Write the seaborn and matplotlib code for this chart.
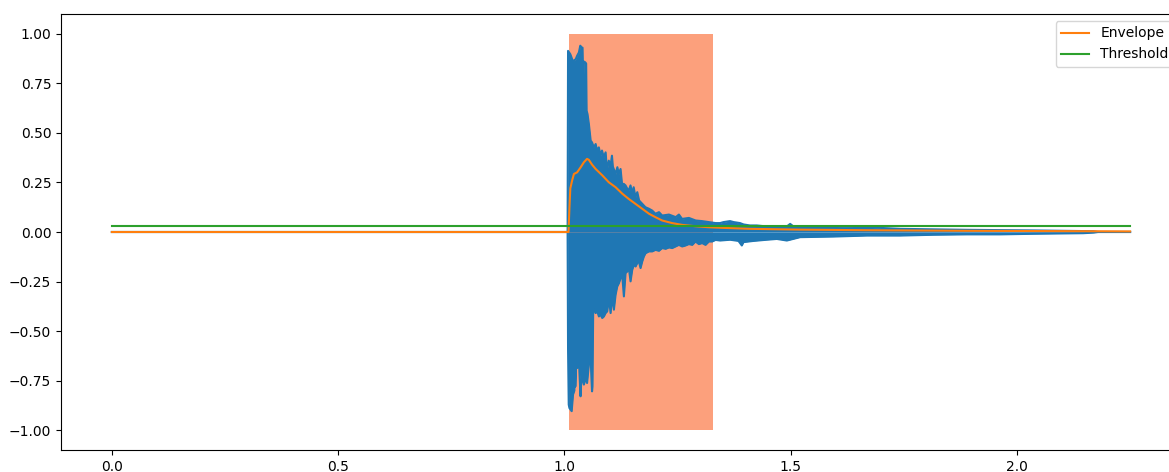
import matplotlib
matplotlib.use("Agg")
import matplotlib.pyplot as plt
import seaborn as sns

# ---- data ----
# upper extent of the waveform (time in s, amplitude)
hi_t = [0.000, 1.007, 1.008, 1.013, 1.017, 1.0185, 1.020, 1.025, 1.028, 1.032,
        1.035, 1.038, 1.040, 1.0415, 1.043, 1.046, 1.048, 1.049, 1.051, 1.054,
        1.058, 1.061, 1.065, 1.069, 1.072, 1.076, 1.080, 1.083, 1.087, 1.091,
        1.094, 1.098, 1.102, 1.105, 1.107, 1.113, 1.117, 1.120, 1.124, 1.128,
        1.131, 1.135, 1.139, 1.142, 1.146, 1.150, 1.153, 1.157, 1.161, 1.165,
        1.172, 1.179, 1.187, 1.194, 1.201, 1.209, 1.216, 1.231, 1.246, 1.253,
        1.260, 1.275, 1.290, 1.304, 1.319, 1.334, 1.344, 1.3515, 1.366, 1.374,
        1.388, 1.396, 1.410, 1.425, 1.447, 1.4915, 1.4988, 1.506, 1.595, 1.668,
        1.742, 1.889, 2.036, 2.169, 2.180, 2.250]
hi_v = [0.000, 0.000, 0.914, 0.897, 0.872, 0.690, 0.864, 0.872, 0.889, 0.906,
        0.940, 0.931, 0.930, 0.746, 0.860, 0.856, 0.850, 0.612, 0.595, 0.545,
        0.461, 0.452, 0.427, 0.444, 0.411, 0.427, 0.385, 0.411, 0.377, 0.402,
        0.310, 0.360, 0.335, 0.385, 0.330, 0.293, 0.327, 0.293, 0.318, 0.226,
        0.243, 0.235, 0.218, 0.209, 0.235, 0.193, 0.226, 0.176, 0.201, 0.159,
        0.142, 0.125, 0.117, 0.108, 0.092, 0.100, 0.083, 0.088, 0.075, 0.088,
        0.066, 0.071, 0.058, 0.055, 0.050, 0.045, 0.045, 0.050, 0.055, 0.050,
        0.045, 0.038, 0.033, 0.033, 0.028, 0.028, 0.041, 0.028, 0.028, 0.024,
        0.016, 0.011, 0.008, 0.004, 0.000, 0.000]

# lower extent of the waveform
lo_t = [0.000, 1.007, 1.008, 1.0095, 1.011, 1.016, 1.019, 1.022, 1.023, 1.024,
        1.026, 1.028, 1.031, 1.032, 1.033, 1.0356, 1.037, 1.039, 1.043, 1.045,
        1.0467, 1.048, 1.050, 1.054, 1.057, 1.059, 1.061, 1.062, 1.0636, 1.0688,
        1.0725, 1.0762, 1.0798, 1.0835, 1.0872, 1.0909, 1.0946, 1.0983, 1.1020, 1.1056,
        1.1093, 1.1130, 1.1167, 1.1204, 1.1241, 1.1277, 1.1314, 1.1351, 1.1388, 1.1424,
        1.1461, 1.1498, 1.1535, 1.1572, 1.1609, 1.1646, 1.1682, 1.1719, 1.1756, 1.1793,
        1.1867, 1.1940, 1.2014, 1.2088, 1.2161, 1.2235, 1.2309, 1.2382, 1.2456, 1.2529,
        1.2603, 1.2677, 1.2750, 1.2824, 1.2897, 1.2971, 1.3044, 1.3118, 1.3192, 1.3265,
        1.3339, 1.3442, 1.3662, 1.3846, 1.3920, 1.3957, 1.4178, 1.4473, 1.4694, 1.4915,
        1.5209, 1.5946, 1.6682, 1.7418, 1.8155, 1.8891, 1.9627, 2.0363, 2.1468, 2.170,
        2.180, 2.250]
lo_v = [0.000, 0.000, -0.590, -0.871, -0.888, -0.904, -0.820, -0.800, -0.518, -0.780,
        -0.669, -0.686, -0.680, -0.585, -0.700, -0.829, -0.760, -0.736, -0.770, -0.753,
        -0.602, -0.740, -0.762, -0.669, -0.535, -0.700, -0.804, -0.780, -0.375, -0.409,
        -0.400, -0.426, -0.417, -0.434, -0.426, -0.409, -0.400, -0.333, -0.409, -0.325,
        -0.392, -0.317, -0.275, -0.258, -0.233, -0.216, -0.325, -0.207, -0.199, -0.182,
        -0.249, -0.191, -0.165, -0.174, -0.157, -0.149, -0.182, -0.149, -0.123, -0.107,
        -0.098, -0.098, -0.090, -0.095, -0.081, -0.085, -0.078, -0.081, -0.073, -0.065,
        -0.073, -0.068, -0.061, -0.065, -0.048, -0.061, -0.056, -0.065, -0.048, -0.048,
        -0.040, -0.043, -0.039, -0.045, -0.068, -0.051, -0.045, -0.039, -0.035, -0.043,
        -0.026, -0.023, -0.018, -0.018, -0.014, -0.012, -0.012, -0.009, -0.006, -0.003,
        0.000, 0.000]

# envelope curve
env_t = [0.000, 1.009, 1.011, 1.013, 1.017, 1.021, 1.028, 1.036, 1.043, 1.050,
         1.054, 1.061, 1.069, 1.084, 1.098, 1.113, 1.128, 1.142, 1.157, 1.172,
         1.187, 1.201, 1.216, 1.238, 1.260, 1.290, 1.319, 1.349, 1.410, 1.521,
         1.668, 1.889, 2.150, 2.250]
env_v = [0.000, 0.000, 0.120, 0.220, 0.260, 0.293, 0.301, 0.327, 0.352, 0.369,
         0.364, 0.340, 0.318, 0.285, 0.251, 0.226, 0.193, 0.167, 0.142, 0.117,
         0.092, 0.075, 0.058, 0.045, 0.036, 0.029, 0.024, 0.021, 0.016, 0.012,
         0.009, 0.006, 0.004, 0.003]

# threshold
thr_t = [0.0, 2.25]
thr_v = [0.03, 0.03]

# detected event region
event_t = [1.011, 1.329]
event_lo = [-1.0, -1.0]
event_hi = [1.0, 1.0]

legend_labels = ["Envelope", "Threshold"]

# ---- figure ----
fig = plt.figure(figsize=(11.69, 4.72), dpi=100)
ax = fig.add_axes([61 / 1169, 22 / 472, 1120 / 1169, 436 / 472])

ax.fill_between(event_t, event_lo, event_hi, color="#FCA07C", lw=0, zorder=1)

ax.fill_between(hi_t, 0, hi_v, color="#1f77b4", lw=0, zorder=1.5)
ax.fill_between(lo_t, lo_v, 0, color="#1f77b4", lw=0, zorder=1.5)
sns.lineplot(x=hi_t, y=hi_v, ax=ax, color="#1f77b4", lw=1.5, sort=False,
             estimator=None, zorder=1.6)
sns.lineplot(x=lo_t, y=lo_v, ax=ax, color="#1f77b4", lw=1.5, sort=False,
             estimator=None, zorder=1.6)

sns.lineplot(x=env_t, y=env_v, ax=ax, color="#ff7f0e", lw=1.5, sort=False,
             estimator=None, zorder=2.1, label=legend_labels[0])
sns.lineplot(x=thr_t, y=thr_v, ax=ax, color="#2ca02c", lw=1.5, sort=False,
             estimator=None, zorder=2.2, label=legend_labels[1])

ax.set_xlim(-0.1125, 2.3625)
ax.set_ylim(-1.1, 1.1)
ax.set_xticks([0.0, 0.5, 1.0, 1.5, 2.0])
ax.set_yticks([-1.0, -0.75, -0.5, -0.25, 0.0, 0.25, 0.5, 0.75, 1.0])
ax.set_xlabel("")
ax.set_ylabel("")
ax.tick_params(labelsize=10)

handles, labels = ax.get_legend_handles_labels()
ax.legend(handles, labels, loc="upper right", fontsize=10)

fig.savefig("out.png", dpi=100)
